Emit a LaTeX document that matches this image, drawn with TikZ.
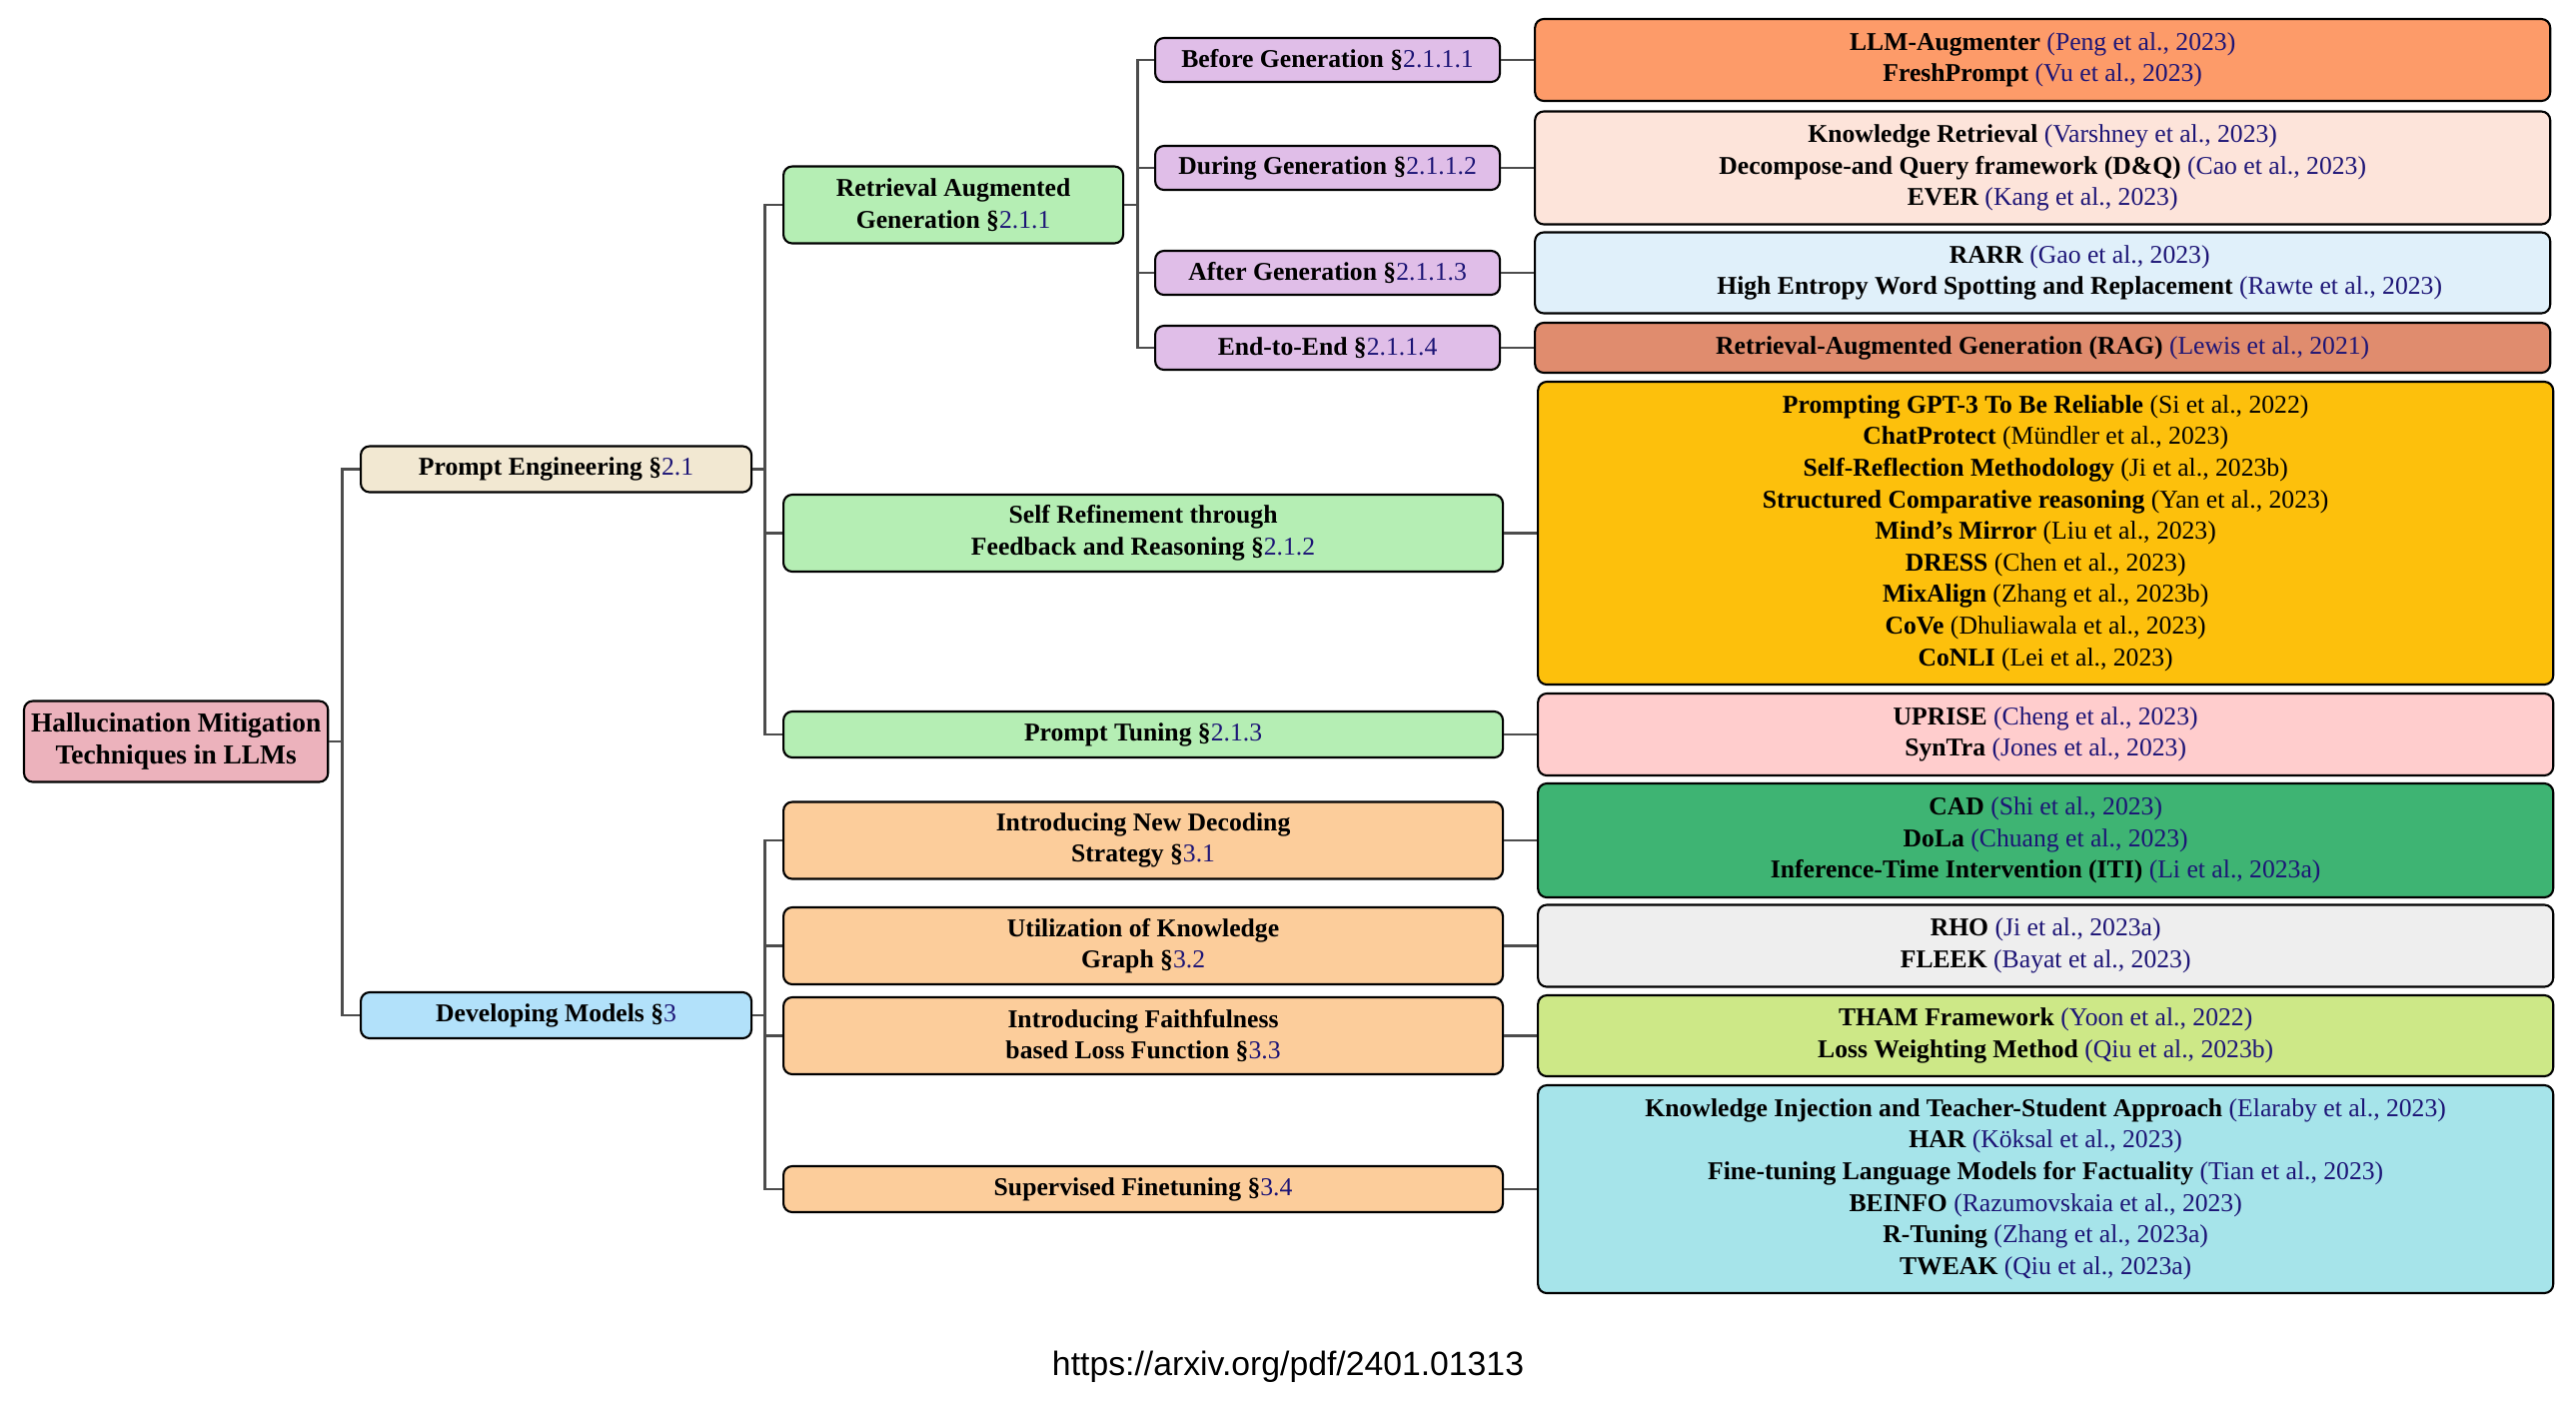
\documentclass[tikz,border=0pt]{standalone}
\usepackage{fontspec}
\setmainfont{Liberation Serif}
\newfontfamily\urlfont{Liberation Sans}
\usepackage{tikz}
\usetikzlibrary{positioning}

\definecolor{citeblue}{RGB}{28,20,118}
\definecolor{cRoot}{RGB}{236,178,188}
\definecolor{cPrompt}{RGB}{242,232,210}
\definecolor{cDevel}{RGB}{178,225,250}
\definecolor{cGreen}{RGB}{181,238,180}
\definecolor{cPurple}{RGB}{224,190,232}
\definecolor{cOrange}{RGB}{252,205,155}
\definecolor{cAugm}{RGB}{253,155,105}
\definecolor{cKnow}{RGB}{253,228,218}
\definecolor{cRarr}{RGB}{224,240,250}
\definecolor{cLewis}{RGB}{224,140,110}
\definecolor{cYellow}{RGB}{253,192,12}
\definecolor{cUprise}{RGB}{255,205,205}
\definecolor{cCad}{RGB}{62,180,115}
\definecolor{cRho}{RGB}{238,238,238}
\definecolor{cTham}{RGB}{205,232,135}
\definecolor{cInject}{RGB}{166,228,234}

\newcommand{\refc}[1]{{\mdseries\color{citeblue}(#1)}}
\newcommand{\refk}[1]{{\mdseries(#1)}}
\newcommand{\secn}[1]{\S{\mdseries\color{citeblue}#1}}

\begin{document}
\begin{tikzpicture} [
	align=center,
	node distance=0.33cm,
	nbox/.style={
		rectangle,rounded corners=2.5pt,draw=black,line width=0.6pt,
		inner sep=2pt,font=\bfseries\fontsize{7.3}{9}\selectfont
	},
	nroot/.style={
		nbox,fill=cRoot,minimum width=3.04cm,minimum height=0.81cm,
		font=\bfseries\fontsize{7.8}{9}\selectfont
	},
	ntop/.style={
		nbox,minimum width=3.91cm,minimum height=0.46cm
	},
	nmid/.style={
		nbox,minimum width=7.20cm
	},
	nsub/.style={
		nbox,fill=cPurple,minimum width=3.45cm,minimum height=0.44cm
	},
	nleaf/.style={
		nbox,minimum width=10.16cm
	},
	conn/.style={
		draw=black!70,line width=0.8pt
	}
]
\useasboundingbox (0,0) rectangle (25.78,-14.16);

% tree skeleton
\node [nroot]	(root) at (0.23,-7.42) [anchor=west]	{Hallucination Mitigation\\Techniques in LLMs};
\node [ntop,fill=cPrompt]	(prompt) at (3.60,-4.695) [anchor=west]	{Prompt Engineering \secn{2.1}};
\node [ntop,fill=cDevel]	(devel) at (3.60,-10.16) [anchor=west]	{Developing Models \secn{3}};

\node [nbox,fill=cGreen,minimum width=3.40cm,minimum height=0.77cm]	(rag) at (7.83,-2.05) [anchor=west]	{Retrieval Augmented\\Generation \secn{2.1.1}};
\node [nmid,fill=cGreen,minimum height=0.77cm]	(selfref) at (7.83,-5.335) [anchor=west]	{Self Refinement through\\Feedback and Reasoning \secn{2.1.2}};
\node [nmid,fill=cGreen,minimum height=0.46cm]	(ptune) at (7.83,-7.35) [anchor=west]	{Prompt Tuning \secn{2.1.3}};

\node [nmid,fill=cOrange,minimum height=0.77cm]	(decode) at (7.83,-8.41) [anchor=west]	{Introducing New Decoding\\Strategy \secn{3.1}};
\node [nmid,fill=cOrange,minimum height=0.77cm]	(kgraph) at (7.83,-9.465) [anchor=west]	{Utilization of Knowledge\\Graph \secn{3.2}};
\node [nmid,fill=cOrange,minimum height=0.77cm]	(faith) at (7.83,-10.365) [anchor=west]	{Introducing Faithfulness\\based Loss Function \secn{3.3}};
\node [nmid,fill=cOrange,minimum height=0.46cm]	(sft) at (7.83,-11.90) [anchor=west]	{Supervised Finetuning \secn{3.4}};

\node [nsub]	(before) at (11.55,-0.60) [anchor=west]	{Before Generation \secn{2.1.1.1}};
\node [nsub]	(during) at (11.55,-1.68) [anchor=west]	{During Generation \secn{2.1.1.2}};
\node [nsub]	(after) at (11.55,-2.73) [anchor=west]	{After Generation \secn{2.1.1.3}};
\node [nsub]	(endtoend) at (11.55,-3.48) [anchor=west]	{End-to-End \secn{2.1.1.4}};

% forks
\draw [conn] (root.east) -- ++(0.13,0) |- (prompt.west);
\draw [conn] (root.east) -- ++(0.13,0) |- (devel.west);
\foreach \kid in {rag,selfref,ptune}
	\draw [conn] (prompt.east) -- ++(0.12,0) |- (\kid.west);
\foreach \kid in {decode,kgraph,faith,sft}
	\draw [conn] (devel.east) -- ++(0.12,0) |- (\kid.west);
\foreach \kid in {before,during,after,endtoend}
	\draw [conn] (rag.east) -- ++(0.13,0) |- (\kid.west);

% leaves
\node [nleaf,fill=cAugm,minimum height=0.82cm]	(augm)[right=of before]
	{LLM-Augmenter \refc{Peng et al., 2023}\\
	 FreshPrompt \refc{Vu et al., 2023}}
	edge [conn]	(before);
\node [nleaf,fill=cKnow,minimum height=1.13cm]	(know)[right=of during]
	{Knowledge Retrieval \refc{Varshney et al., 2023}\\
	 Decompose-and Query framework (D\&Q) \refc{Cao et al., 2023}\\
	 EVER \refc{Kang et al., 2023}}
	edge [conn]	(during);
\node [nleaf,fill=cRarr,minimum height=0.81cm]	(rarr)[right=of after]
	{\hspace*{0.74cm}RARR \refc{Gao et al., 2023}\\
	 \hspace*{0.74cm}High Entropy Word Spotting and Replacement \refc{Rawte et al., 2023}}
	edge [conn]	(after);
\node [nleaf,fill=cLewis,minimum height=0.50cm]	(lewis)[right=of endtoend]
	{Retrieval-Augmented Generation (RAG) \refc{Lewis et al., 2021}}
	edge [conn]	(endtoend);
\node [nleaf,fill=cYellow,minimum height=3.03cm]	(reason)[right=of selfref]
	{Prompting GPT-3 To Be Reliable \refk{Si et al., 2022}\\
	 ChatProtect \refk{Mündler et al., 2023}\\
	 Self-Reflection Methodology \refk{Ji et al., 2023b}\\
	 Structured Comparative reasoning \refk{Yan et al., 2023}\\
	 Mind’s Mirror \refk{Liu et al., 2023}\\
	 DRESS \refk{Chen et al., 2023}\\
	 MixAlign \refk{Zhang et al., 2023b}\\
	 CoVe \refk{Dhuliawala et al., 2023}\\
	 CoNLI \refk{Lei et al., 2023}}
	edge [conn]	(selfref);
\node [nleaf,fill=cUprise,minimum height=0.82cm]	(uprise)[right=of ptune]
	{UPRISE \refc{Cheng et al., 2023}\\
	 SynTra \refc{Jones et al., 2023}}
	edge [conn]	(ptune);
\node [nleaf,fill=cCad,minimum height=1.14cm]	(cad)[right=of decode]
	{CAD \refc{Shi et al., 2023}\\
	 DoLa \refc{Chuang et al., 2023}\\
	 Inference-Time Intervention (ITI) \refc{Li et al., 2023a}}
	edge [conn]	(decode);
\node [nleaf,fill=cRho,minimum height=0.82cm]	(rho)[right=of kgraph]
	{RHO \refc{Ji et al., 2023a}\\
	 FLEEK \refc{Bayat et al., 2023}}
	edge [conn]	(kgraph);
\node [nleaf,fill=cTham,minimum height=0.81cm]	(tham)[right=of faith]
	{THAM Framework \refc{Yoon et al., 2022}\\
	 Loss Weighting Method \refc{Qiu et al., 2023b}}
	edge [conn]	(faith);
\node [nleaf,fill=cInject,minimum height=2.08cm]	(inject)[right=of sft]
	{Knowledge Injection and Teacher-Student Approach \refc{Elaraby et al., 2023}\\
	 HAR \refc{Köksal et al., 2023}\\
	 Fine-tuning Language Models for Factuality \refc{Tian et al., 2023}\\
	 BEINFO \refc{Razumovskaia et al., 2023}\\
	 R-Tuning \refc{Zhang et al., 2023a}\\
	 TWEAK \refc{Qiu et al., 2023a}}
	edge [conn]	(sft);

\node [font=\urlfont\fontsize{9.6}{11}\selectfont]	(url) at (12.89,-13.76) [anchor=base]	{https://arxiv.org/pdf/2401.01313};
\end{tikzpicture}
\end{document}
